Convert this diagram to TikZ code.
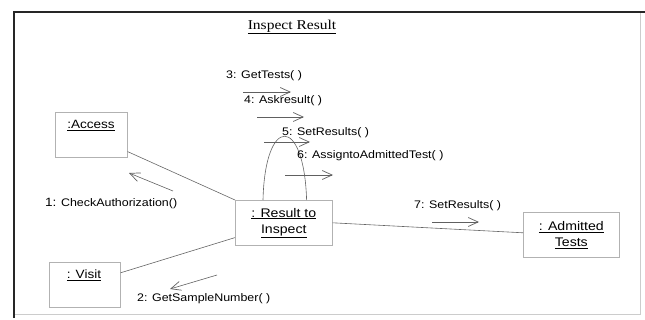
\documentclass[tikz,border=0pt]{standalone}
\usepackage{fontspec}
\setmainfont[FakeStretch=1.13]{Liberation Sans}
\newfontfamily\titlefont[FakeStretch=1.15]{Liberation Serif}
\usetikzlibrary{arrows.meta}
\begin{document}
\begin{tikzpicture}[x=1pt,y=-1pt,
  objbox/.style={draw=gray!60, line width=0.6pt, fill=white, align=center,
    font=\fontsize{12.5}{15}\selectfont, inner sep=0pt},
  objtext/.style={anchor=north, font=\fontsize{12}{14}\selectfont, inner sep=0pt},
  link/.style={draw=gray!80!black, line width=0.6pt},
  msg/.style={draw=gray!75!black, line width=0.6pt,
    -{Straight Barb[length=10pt,width=9pt,line width=0.7pt]}},
  msglabel/.style={font=\fontsize{11}{13}\selectfont, inner sep=0pt, anchor=west}]
  % frame
  \useasboundingbox (0,0) rectangle (645,320);
  \draw[gray!40, line width=0.6pt] (640,12) -- (640,314) -- (14,314);
  \draw[black!85, line width=2pt] (14,318) -- (14,12) -- (645,12);
  % title
  \node[font=\titlefont\fontsize{13.5}{16}\selectfont, inner sep=0pt] (title) at (292,27) {\underline{Inspect Result}};

  % objects
  \node[objbox, minimum width=72pt, minimum height=45pt, anchor=north west] (access) at (55,112) {};
  \node[objtext] (accesst) at (91,120) {\underline{:Access}};
  \node[objbox, minimum width=71pt, minimum height=45pt, anchor=north west] (visit) at (49,262) {};
  \node[objtext] (visitt) at (84,270) {\underline{: Visit}};
  \node[objbox, minimum width=97pt, minimum height=45pt, anchor=north west] (result) at (235,200)
     {\underline{: Result to}\\[1pt]\underline{Inspect}};
  \node[objbox, minimum width=96pt, minimum height=45pt, anchor=north west] (admitted) at (523,212)
     {\underline{: Admitted}\\[1pt]\underline{Tests}};

  % links
  \draw[link] ([yshift=6pt]access.south east) -- (result.north west);
  \draw[link] ([yshift=12pt]visit.east) -- ([yshift=8pt]result.south west);
  \draw[link] (result.east) -- ([yshift=2pt]admitted.west);
  % self link above the central object
  \draw[link] ([xshift=28pt]result.north west) .. controls (265,115) and (304,115) .. ([xshift=-26pt]result.north east);

  % messages
  \coordinate (m3a) at (243,92);  \coordinate (m3b) at (291,92);
  \coordinate (m4a) at (257,117); \coordinate (m4b) at (304,117);
  \coordinate (m5a) at (264,142); \coordinate (m5b) at (310,142);
  \coordinate (m6a) at (285,175); \coordinate (m6b) at (333,175);
  \coordinate (m7a) at (432,222); \coordinate (m7b) at (479,222);
  \coordinate (m1a) at (173,191); \coordinate (m1b) at (129,173);
  \coordinate (m2a) at (217,275); \coordinate (m2b) at (170,289);
  \draw[msg] (m3a) -- (m3b);
  \draw[msg] (m4a) -- (m4b);
  \draw[msg] (m5a) -- (m5b);
  \draw[msg] (m6a) -- (m6b);
  \draw[msg] (m7a) -- (m7b);
  \draw[msg] (m1a) -- (m1b);
  \draw[msg] (m2a) -- (m2b);

  \node[msglabel] (l3) at (226,76) {3: GetTests( )};
  \node[msglabel] (l4) at (244,101) {4: Askresult( )};
  \node[msglabel] (l5) at (282,133) {5: SetResults( )};
  \node[msglabel] (l6) at (297,156) {6: AssigntoAdmittedTest( )};
  \node[msglabel] (l7) at (414,206) {7: SetResults( )};
  \node[msglabel] (l1) at (45,204) {{\fontsize{12}{13}\selectfont 1:} CheckAuthorization()};
  \node[msglabel] (l2) at (137,299) {2: GetSampleNumber( )};
\end{tikzpicture}
\end{document}
